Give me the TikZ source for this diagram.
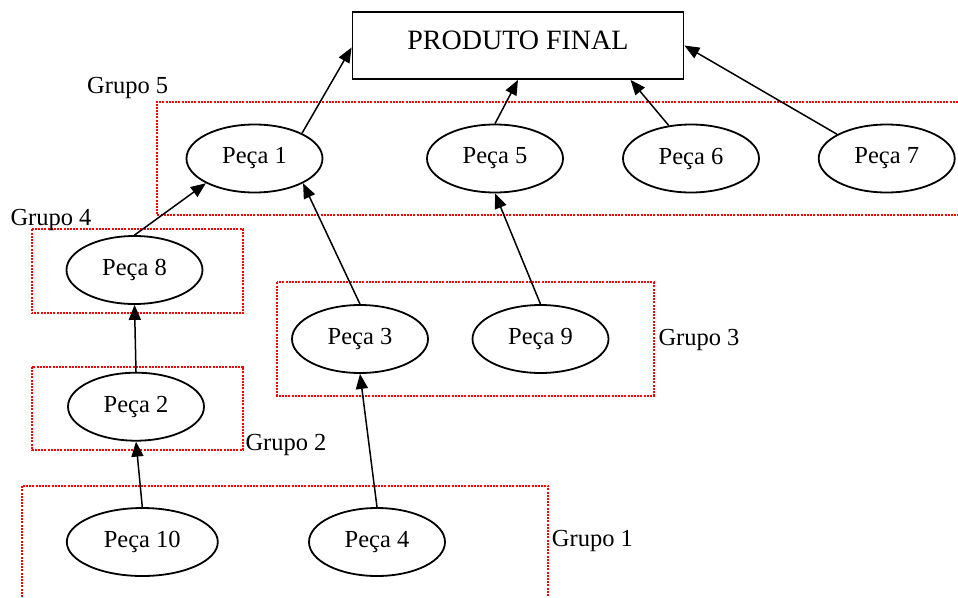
\documentclass[tikz,border=0pt]{standalone}
\usepackage{fontspec}
\setmainfont{Liberation Serif}
\usetikzlibrary{arrows.meta,shapes.geometric,calc}
\begin{document}
\begin{tikzpicture}[x=1pt,y=-1pt,
  peca/.style={ellipse,draw,line width=1.8pt,minimum width=136pt,minimum height=68pt,inner sep=0pt,font=\fontsize{24.5}{28}\selectfont},
  grp/.style={draw=red,line width=2pt,dash pattern=on 2pt off 1.2pt},
  glabel/.style={anchor=base west,inner sep=0pt,font=\fontsize{24.5}{28}\selectfont},
  arr/.style={line width=1.5pt,-{Triangle[length=15pt,width=12pt]}}]
\useasboundingbox (0,0) rectangle (958,597);
% groups
\draw[grp] (958,101.7) -- (156.7,101.7) -- (156.7,215) -- (958,215);
\draw[grp] (31.7,229.3) rectangle (243,313.3);
\draw[grp] (277,282.3) rectangle (653.7,395.7);
\draw[grp] (31.7,366.7) rectangle (243,450);
\draw[grp] (21.7,597) -- (21.7,486) -- (548.3,486) -- (548.3,597);
\node[glabel] (g5) at (87,93) {Grupo 5};
\node[glabel] (g4) at (10.3,225) {Grupo 4};
\node[glabel] (g3) at (658.3,345) {Grupo 3};
\node[glabel] (g2) at (245.3,450) {Grupo 2};
\node[glabel] (g1) at (551.7,546.7) {Grupo 1};
% box
\node[draw,line width=1.8pt,minimum width=331pt,minimum height=67pt,inner sep=0pt,
  text height=20pt,text depth=13pt,font=\fontsize{28}{32}\selectfont] (box) at (518,45.5) {PRODUTO FINAL};
% parts
\node[peca] (p1) at (254.5,158.5) {Peça 1};
\node[peca] (p5) at (495,158.5) {Peça 5};
\node[peca] (p6) at (691,158.5) {Peça 6};
\node[peca] (p7) at (886.7,158.5) {Peça 7};
\node[peca] (p8) at (134.5,270) {Peça 8};
\node[peca] (p3) at (360,339) {Peça 3};
\node[peca] (p9) at (540.5,339) {Peça 9};
\node[peca] (p2) at (136,406.7) {Peça 2};
\node[peca,minimum width=151pt] (p10) at (142.3,542) {Peça 10};
\node[peca] (p4) at (377,542) {Peça 4};
% arrows
\draw[arr] (p1.28) -- ($(box.west)+(0,2)$);
\draw[arr] (p5.north) -- (box.south);
\draw[arr] (p6.124) -- (box.-17.4);
\draw[arr] (p7.154) -- (box.east);
\draw[arr] (p8.north) -- (p1.207);
\draw[arr] (p3.north) -- (p1.-27);
\draw[arr] (p9.north) -- (p5.south);
\draw[arr] (p2.north) -- (p8.south);
\draw[arr] (p10.north) -- (p2.south);
\draw[arr] (p4.north) -- (p3.south);
\end{tikzpicture}
\end{document}
